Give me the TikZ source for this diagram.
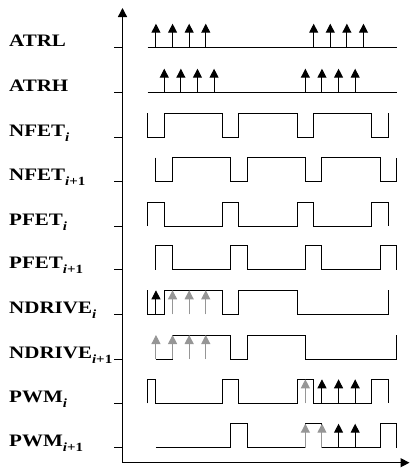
\documentclass[tikz,border=0pt]{standalone}
\usepackage{fontspec}
\setmainfont[FakeStretch=1.2]{Liberation Serif}
\usetikzlibrary{arrows.meta}
\definecolor{sgray}{RGB}{150,150,150}
\tikzset{
  axisline/.style={line width=1.3pt},
  sig/.style={line width=1pt, line join=miter},
  upb/.style={line width=1pt, -{Triangle[width=9pt,length=9pt]}},
  upg/.style={upb, draw=sgray},
  tickmark/.style={line width=1pt},
  lab/.style={font=\fontsize{17.5}{19}\selectfont\bfseries, anchor=base west, inner sep=0pt},
  row/.style={shift={(147.67,#1)}, x=8.3pt, y=24pt}
}
\newcommand\lsub[1]{\raisebox{-5pt}{\fontsize{12.5}{12.5}\selectfont #1}}
\begin{document}
\begin{tikzpicture}[x=1pt,y=-1pt]
\useasboundingbox (0,0) rectangle (410,469);
% axes
\draw[axisline, {Triangle[width=9pt,length=9pt]}-{Triangle[width=9pt,length=9pt]}] (122.5,8) -- (122.5,462.7) -- (409.5,462.7);
% ticks and labels
\foreach \y/\nm/\txt in {47.7/atrl/ATRL, 92.7/atrh/ATRH, 137/nfeti/NFET\lsub{\textit{i}}, 181.7/nfetj/NFET\lsub{\textit{i}+1}, 226/pfeti/PFET\lsub{\textit{i}}, 269.5/pfetj/PFET\lsub{\textit{i}+1}, 314.3/ndrvi/NDRIVE\lsub{\textit{i}}, 359/ndrvj/NDRIVE\lsub{\textit{i}+1}, 403.3/pwmi/PWM\lsub{\textit{i}}, 447.7/pwmj/PWM\lsub{\textit{i}+1}}{
  \draw[tickmark] (114,\y) -- (122.5,\y);
  \node[lab] (\nm) at (9,\y-1) {\txt};
}
% ATRL
\begin{scope}[row=47.7]
  \draw[sig] (0,0) -- (30,0);
  \foreach \n in {1,3,5,7,20,22,24,26} \draw[upb] (\n,0) -- (\n,1);
\end{scope}
% ATRH
\begin{scope}[row=92.7]
  \draw[sig] (0,0) -- (30,0);
  \foreach \n in {2,4,6,8,19,21,23,25} \draw[upb] (\n,0) -- (\n,1);
\end{scope}
% NFET_i
\begin{scope}[row=137]
  \draw[sig] (0,1)--(0,0)--(2,0)--(2,1)--(9,1)--(9,0)--(11,0)--(11,1)--(18,1)--(18,0)--(20,0)--(20,1)--(27,1)--(27,0)--(29,0)--(29,1);
\end{scope}
% NFET_i+1
\begin{scope}[row=181.7]
  \draw[sig] (1,1)--(1,0)--(3,0)--(3,1)--(10,1)--(10,0)--(12,0)--(12,1)--(19,1)--(19,0)--(21,0)--(21,1)--(28,1)--(28,0)--(30,0)--(30,1);
\end{scope}
% PFET_i
\begin{scope}[row=226]
  \draw[sig] (0,0)--(0,1)--(2,1)--(2,0)--(9,0)--(9,1)--(11,1)--(11,0)--(18,0)--(18,1)--(20,1)--(20,0)--(27,0)--(27,1)--(29,1)--(29,0);
\end{scope}
% PFET_i+1
\begin{scope}[row=269.5]
  \draw[sig] (1,0)--(1,1)--(3,1)--(3,0)--(10,0)--(10,1)--(12,1)--(12,0)--(19,0)--(19,1)--(21,1)--(21,0)--(28,0)--(28,1)--(30,1)--(30,0);
\end{scope}
% NDRIVE_i
\begin{scope}[row=314.3]
  \draw[sig] (0,1)--(0,0)--(2,0)--(2,1)--(9,1)--(9,0)--(11,0)--(11,1)--(18,1)--(18,0)--(29,0)--(29,1);
  \draw[upb] (1,0) -- (1,1);
  \foreach \n in {3,5,7} \draw[upg] (\n,0) -- (\n,1);
\end{scope}
% NDRIVE_i+1
\begin{scope}[row=359]
  \draw[sig] (1,0)--(3,0)--(3,1)--(10,1)--(10,0)--(12,0)--(12,1)--(19,1)--(19,0)--(30,0)--(30,1);
  \foreach \n in {1,3,5,7} \draw[upg] (\n,0) -- (\n,1);
\end{scope}
% PWM_i
\begin{scope}[row=403.3]
  \draw[sig] (0,0)--(0,1)--(1,1)--(1,0)--(9,0)--(9,1)--(11,1)--(11,0)--(18,0)--(18,1)--(20,1)--(20,0)--(27,0)--(27,1)--(29,1)--(29,0);
  \draw[upg] (19,0) -- (19,1);
  \foreach \n in {21,23,25} \draw[upb] (\n,0) -- (\n,1);
\end{scope}
% PWM_i+1
\begin{scope}[row=447.7]
  \draw[sig] (1,0)--(10,0)--(10,1)--(12,1)--(12,0)--(19,0)--(19,1)--(21,1)--(21,0)--(28,0)--(28,1)--(30,1)--(30,0);
  \foreach \n in {19,21} \draw[upg] (\n,0) -- (\n,1);
  \foreach \n in {23,25} \draw[upb] (\n,0) -- (\n,1);
\end{scope}
\end{tikzpicture}
\end{document}
